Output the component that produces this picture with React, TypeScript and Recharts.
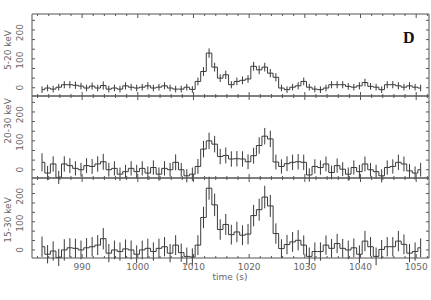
import React from 'react'
import { ComposedChart, Line, XAxis, YAxis, ErrorBar } from 'recharts'

// bin centres (s)
const times = [
  982.8, 983.8, 984.8, 985.8, 986.8, 987.8, 988.8, 989.8, 990.8, 991.8,
  992.8, 993.8, 994.8, 995.8, 996.8, 997.8, 998.8, 999.8, 1000.8, 1001.8,
  1002.8, 1003.8, 1004.8, 1005.8, 1006.8, 1007.8, 1008.8, 1009.8, 1010.8, 1011.8,
  1012.8, 1013.8, 1014.8, 1015.8, 1016.8, 1017.8, 1018.8, 1019.8, 1020.8, 1021.8,
  1022.8, 1023.8, 1024.8, 1025.8, 1026.8, 1027.8, 1028.8, 1029.8, 1030.8, 1031.8,
  1032.8, 1033.8, 1034.8, 1035.8, 1036.8, 1037.8, 1038.8, 1039.8, 1040.8, 1041.8,
  1042.8, 1043.8, 1044.8, 1045.8, 1046.8, 1047.8, 1048.8, 1049.8, 1050.8,
]

const soft = [
  -7, -1, -5, 2, 11, 11, 9, 6, -1, 6,
  -1, 8, -5, -1, -5, 7, 2, -1, 2, 7,
  -1, 2, 7, -1, -5, -5, 2, -6, 23, 59,
  126, 75, 35, 47, 11, 23, 27, 32, 78, 65,
  75, 53, 38, -1, -7, 2, 7, 23, 2, -5,
  -7, -1, 11, 11, 11, 5, 2, 7, 19, 5,
  2, -7, 11, 11, 7, 2, 7, 2, -1,
]
const softErr = [
  12, 12, 12, 12, 13, 13, 13, 12, 12, 13,
  12, 15, 12, 12, 12, 13, 12, 12, 12, 13,
  12, 12, 13, 12, 12, 12, 12, 12, 14, 16,
  17, 16, 14, 15, 13, 14, 14, 14, 16, 16,
  16, 15, 15, 12, 12, 12, 13, 14, 12, 12,
  12, 12, 13, 13, 13, 12, 12, 13, 14, 12,
  12, 12, 13, 13, 13, 12, 13, 12, 12,
]

const mid = [
  27, -12, 21, -28, 21, 15, 5, 0, 15, 12,
  21, 29, 0, 5, -16, -7, 5, -7, 5, -12,
  8, -16, 5, 0, 27, 0, -22, -16, 12, 75,
  105, 93, 48, 52, 39, 40, 39, 29, 51, 88,
  122, 112, 28, 12, 22, 27, 29, 27, -19, 12,
  8, 21, -10, 15, 2, -16, 8, -7, 21, 0,
  -7, -22, 8, 12, 27, 21, -4, -12, 0,
]
const midErr = [
  33, 26, 28, 24, 28, 27, 26, 25, 27, 27,
  28, 29, 25, 26, 24, 25, 26, 25, 26, 24,
  26, 24, 26, 25, 29, 25, 24, 24, 27, 30,
  30, 30, 28, 29, 28, 28, 28, 27, 29, 30,
  30, 30, 27, 26, 27, 28, 28, 28, 24, 26,
  26, 27, 25, 26, 25, 24, 26, 25, 27, 25,
  25, 24, 26, 26, 28, 27, 25, 24, 25,
]

const hard = [
  12, -16, -4, -28, 0, 8, 6, 0, 8, 12,
  18, 42, -12, 0, -6, 4, 0, -16, 0, 6,
  -6, 6, 12, -12, 18, -10, -24, -26, 18, 121,
  230, 168, 76, 95, 57, 67, 55, 59, 128, 150,
  197, 164, 61, 5, 20, 30, 36, 18, -24, -6,
  -6, 18, 6, 24, 6, 0, 8, -16, 33, 12,
  -24, 2, 12, 12, 33, 21, -12, -6, 8,
]
const hardErr = [
  38, 34, 36, 32, 40, 36, 36, 35, 36, 36,
  37, 40, 34, 35, 34, 35, 35, 33, 35, 36,
  34, 36, 36, 34, 37, 34, 33, 32, 37, 40,
  43, 42, 38, 39, 37, 38, 37, 38, 40, 41,
  42, 41, 38, 35, 36, 37, 38, 36, 33, 34,
  34, 36, 35, 36, 35, 35, 35, 33, 38, 36,
  33, 35, 36, 36, 38, 37, 34, 34, 35,
]

const xTicks = [
  982, 984, 986, 988, 990, 992, 994, 996, 998, 1000,
  1002, 1004, 1006, 1008, 1010, 1012, 1014, 1016, 1018, 1020,
  1022, 1024, 1026, 1028, 1030, 1032, 1034, 1036, 1038, 1040,
  1042, 1044, 1046, 1048, 1050, 1052,
]
const yMarks = [0, 35, 70, 105, 140, 175, 210, 245]
const yLabels = [0, 100, 200]
const bandNames = ['5-20 keV', '20-30 keV', '15-30 keV']

const INK = '#3a3a3a'
const AXIS = '#555'
const TXT = '#666'
const FONT = '"DejaVu Sans", sans-serif'
const X_DOMAIN: [number, number] = [981, 1052.3]
const Y_DOMAIN: [number, number] = [-30, 268]

const XTick = ({ x, y, payload, dir, showLabel }: any) => {
  const v = payload.value
  const major = v % 10 === 0
  return (
    <g>
      <line x1={x} x2={x} y1={y} y2={y + dir * (major ? 4 : 2)} stroke={AXIS} />
      {showLabel && major && (
        <text x={x} y={y + 12} textAnchor="middle" fontSize={9} fontFamily={FONT} fill={TXT}>
          {v}
        </text>
      )}
    </g>
  )
}

const YTick = ({ x, y, dir }: any) => (
  <line x1={x} x2={x + dir * 3} y1={y} y2={y} stroke={AXIS} />
)

const YLabel = ({ y, payload }: any) => (
  <text
    x={20}
    y={y}
    transform={`rotate(-90 20 ${y})`}
    textAnchor="middle"
    dominantBaseline="central"
    fontSize={9}
    fontFamily={FONT}
    fill={TXT}
  >
    {payload.value}
  </text>
)

function Panel({ values, errs, top, bottom, showX }: any) {
  const data = times.map((t, i) => ({ t, v: values[i], e: errs[i] }))
  const xProps = {
    dataKey: 't',
    type: 'number' as const,
    domain: X_DOMAIN,
    allowDataOverflow: true,
    ticks: xTicks,
    interval: 0 as const,
    height: 1,
    tickSize: 0,
    tickMargin: 0,
    tickLine: false,
    axisLine: { stroke: AXIS },
  }
  const yProps = {
    type: 'number' as const,
    domain: Y_DOMAIN,
    allowDataOverflow: true,
    width: 1,
    tickSize: 0,
    tickMargin: 0,
    tickLine: false,
    interval: 0 as const,
  }
  return (
    <div style={{ position: 'absolute', left: 0, top: 0 }}>
      <ComposedChart
        width={431}
        height={300}
        data={data}
        margin={{ top: top - 1, bottom: 300 - bottom - 1, left: 30, right: 1 }}
      >
        <XAxis xAxisId="b" {...xProps} tick={(p: any) => <XTick {...p} dir={-1} showLabel={showX} />} />
        <XAxis
          xAxisId="t"
          orientation="top"
          {...xProps}
          tick={(p: any) => <XTick {...p} dir={1} showLabel={false} />}
        />
        <YAxis
          yAxisId="l"
          {...yProps}
          ticks={yMarks}
          axisLine={{ stroke: AXIS }}
          tick={(p: any) => <YTick {...p} dir={1} />}
        />
        <YAxis
          yAxisId="lab"
          {...yProps}
          ticks={yLabels}
          axisLine={false}
          tick={(p: any) => <YLabel {...p} />}
        />
        <YAxis
          yAxisId="r"
          orientation="right"
          {...yProps}
          ticks={yMarks}
          axisLine={{ stroke: AXIS }}
          tick={(p: any) => <YTick {...p} dir={-1} />}
        />
        <Line
          xAxisId="b"
          yAxisId="l"
          dataKey="v"
          type="step"
          stroke={INK}
          strokeWidth={1}
          dot={false}
          isAnimationActive={false}
        >
          <ErrorBar dataKey="e" direction="y" width={0} stroke={INK} strokeWidth={1} />
        </Line>
      </ComposedChart>
    </div>
  )
}

export default function App() {
  return (
    <div style={{ position: 'absolute', left: 0, top: 0, width: 431, height: 300, background: '#fff' }}>
      <Panel values={soft} errs={softErr} top={14} bottom={96} showX={false} />
      <Panel values={mid} errs={midErr} top={96} bottom={178} showX={false} />
      <Panel values={hard} errs={hardErr} top={178} bottom={258} showX />
      <svg width={431} height={300} style={{ position: 'absolute', left: 0, top: 0, pointerEvents: 'none' }}>
        {[50, 121, 220].map((cy, i) => (
          <text
            key={bandNames[i]}
            x={8}
            y={cy}
            transform={`rotate(-90 8 ${cy})`}
            textAnchor="middle"
            dominantBaseline="central"
            fontSize={9}
            fontFamily={FONT}
            fill={TXT}
          >
            {bandNames[i]}
          </text>
        ))}
        <text x={230} y={280} textAnchor="middle" fontSize={9} fontFamily={FONT} fill={TXT}>
          time (s)
        </text>
        <text x={403} y={43} fontSize={16} fontWeight="bold" fontFamily='"Liberation Serif", serif' fill="#111">
          D
        </text>
      </svg>
    </div>
  )
}
